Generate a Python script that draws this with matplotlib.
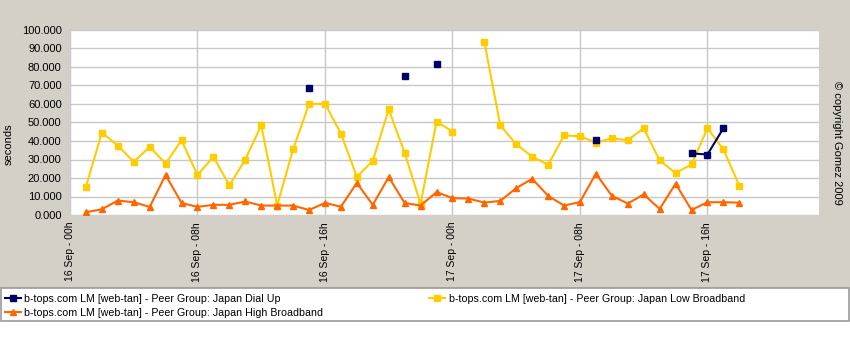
import numpy as np
import matplotlib
matplotlib.use("Agg")
import matplotlib.pyplot as plt
from matplotlib.patches import Rectangle

plt.rcParams['font.family'] = ['Liberation Sans', 'DejaVu Sans']

# hours since 16 Sep 00h
hours = list(range(1, 43))
nan = np.nan

dial_up = [nan] * 42
dial_up[15 - 1] = 68.7
dial_up[21 - 1] = 75.3
dial_up[23 - 1] = 81.5
dial_up[33 - 1] = 40.5
dial_up[39 - 1] = 33.3
dial_up[40 - 1] = 32.7
dial_up[41 - 1] = 46.9

low_broadband = [15.3, 44.5, 37.5, 28.7, 36.9, 27.8, 40.4, 21.6, 31.5, 16.0,
                 30.0, 48.5, 5.1, 35.5, 60.0, 60.2, 44.0, 20.7, 29.3, 57.1,
                 33.6, 6.0, 50.5, 45.1, nan, 93.6, 48.5, 38.2, 31.6, 27.1,
                 43.0, 42.6, 39.1, 41.5, 40.4, 46.9, 29.5, 22.7, 27.3, 46.9,
                 35.5, 15.8]

high_broadband = [1.5, 3.1, 7.8, 6.9, 4.4, 21.6, 6.5, 4.4, 5.5, 5.5,
                  7.3, 5.1, 5.1, 5.1, 2.7, 6.5, 4.5, 17.3, 5.5, 20.5,
                  6.5, 5.1, 12.4, 9.1, 8.9, 6.7, 7.6, 14.5, 19.6, 10.4,
                  5.1, 7.0, 22.4, 10.4, 6.2, 11.1, 3.3, 16.9, 2.7, 6.9,
                  6.9, 6.7]

tick_hours = [0, 8, 16, 24, 32, 40]
tick_labels = ['16 Sep - 00h', '16 Sep - 08h', '16 Sep - 16h',
               '17 Sep - 00h', '17 Sep - 08h', '17 Sep - 16h']

names = ['b-tops.com LM [web-tan] - Peer Group: Japan Dial Up',
         'b-tops.com LM [web-tan] - Peer Group: Japan High Broadband',
         'b-tops.com LM [web-tan] - Peer Group: Japan Low Broadband']

W, H = 850, 339
bg = '#D4D0C8'
fig = plt.figure(figsize=(8.5, 3.39), dpi=100, facecolor=bg)

# white strip at the bottom with the legend box
fig.patches.append(Rectangle((0, 0), 1, 1 - 288/H, transform=fig.transFigure,
                             facecolor='white', edgecolor='none', zorder=0))
fig.patches.append(Rectangle((1/W, 1 - 321/H), 848/W, 33/H,
                             transform=fig.transFigure, facecolor='white',
                             edgecolor='#999999', linewidth=1.2, zorder=1))

ax = fig.add_axes([70/W, 1 - 215/H, (819 - 70)/W, (215 - 30)/H])
ax.set_facecolor('white')

h1, = ax.plot(hours, dial_up, color='#000066', marker='s', markersize=4.5,
              linewidth=1.5, label=names[0], zorder=4)
h3, = ax.plot(hours, low_broadband, color='#FFCC00', marker='s', markersize=4.5,
              linewidth=1.5, label=names[2], zorder=3)
h2, = ax.plot(hours, high_broadband, color='#FF6600', marker='^', markersize=4.5,
              linewidth=1.5, label=names[1], zorder=3)

ax.set_xlim(0, 47)
ax.set_ylim(0, 100)
ax.set_yticks(np.arange(0, 101, 10))
ax.set_yticklabels(['%.3f' % v for v in np.arange(0, 101, 10)], fontsize=8)
ax.set_xticks(tick_hours)
ax.set_xticklabels(tick_labels, rotation=90, fontsize=7.5)
ax.tick_params(axis='y', length=0, pad=6)
ax.tick_params(axis='x', length=0, pad=5)
ax.grid(True, color='#C8C8C8', linewidth=1)
ax.set_axisbelow(True)
for s in ax.spines.values():
    s.set_visible(False)

ax.set_ylabel('seconds', fontsize=8)
ax.yaxis.set_label_coords((14 - 70)/749, (215 - 144)/185)
fig.text(837/W, 1 - 143/H, '\u00a9 copyright Gomez 2009', rotation=-90,
         ha='center', va='center', fontsize=8)

leg = fig.legend([h1, h2, h3], names, ncol=2, loc='upper left',
                 bbox_to_anchor=(5/W, 1 - 294/H), borderaxespad=0,
                 fontsize=7.7, frameon=False, handlelength=1.45,
                 handletextpad=0.36, labelspacing=0.38, borderpad=0,
                 columnspacing=9.9)

fig.savefig('out.png', dpi=100, facecolor=bg)
